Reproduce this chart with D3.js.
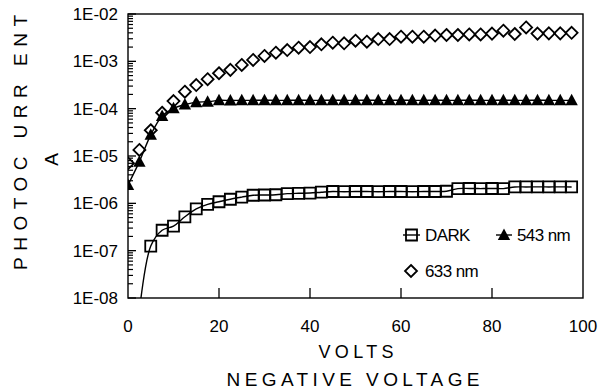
<!DOCTYPE html>
<html>
<head>
<meta charset="utf-8">
<script src="https://cdn.jsdelivr.net/npm/d3@7"></script>
<style>
  body { margin: 0; background: #fff; }
  svg { display: block; font-family: "Liberation Sans", Arial, sans-serif; }
</style>
</head>
<body>
<svg id="canvas"></svg>
<script>
var w = 598
var h = 392

// ########## Data ##########
var volts = [0, 2.5, 5, 7.5, 10, 12.5, 15, 17.5, 20, 22.5, 25, 27.5, 30, 32.5, 35, 37.5,
    40, 42.5, 45, 47.5, 50, 52.5, 55, 57.5, 60, 62.5, 65, 67.5, 70, 72.5, 75, 77.5,
    80, 82.5, 85, 87.5, 90, 92.5, 95, 97.5];

var dark = [null, 5.2e-9, 1.25e-7, 2.7e-7, 3.3e-7, 5.2e-7, 7.6e-7, 9.5e-7, 1.08e-6, 1.22e-6,
    1.35e-6, 1.48e-6, 1.5e-6, 1.52e-6, 1.6e-6, 1.63e-6, 1.65e-6, 1.72e-6, 1.78e-6, 1.76e-6,
    1.78e-6, 1.78e-6, 1.76e-6, 1.78e-6, 1.78e-6, 1.76e-6, 1.78e-6, 1.78e-6, 1.8e-6, 2.05e-6,
    2.06e-6, 2.05e-6, 2.06e-6, 2.05e-6, 2.22e-6, 2.22e-6, 2.23e-6, 2.22e-6, 2.23e-6, 2.22e-6];

var nm543 = [2.44e-6, 7.6e-6, 2.8e-5, 7.0e-5, 1.02e-4, 1.22e-4, 1.37e-4, 1.4e-4, 1.5e-4, 1.49e-4,
    1.5e-4, 1.5e-4, 1.51e-4, 1.5e-4, 1.5e-4, 1.51e-4, 1.5e-4, 1.5e-4, 1.51e-4, 1.5e-4,
    1.5e-4, 1.51e-4, 1.5e-4, 1.5e-4, 1.51e-4, 1.5e-4, 1.5e-4, 1.51e-4, 1.5e-4, 1.5e-4,
    1.51e-4, 1.5e-4, 1.5e-4, 1.51e-4, 1.5e-4, 1.5e-4, 1.51e-4, 1.5e-4, 1.5e-4, 1.5e-4];

var nm633 = [7.0e-6, 1.34e-5, 3.5e-5, 8.2e-5, 1.45e-4, 2.28e-4, 3.16e-4, 4.2e-4, 5.6e-4, 6.6e-4,
    8.4e-4, 1.07e-3, 1.3e-3, 1.52e-3, 1.73e-3, 1.94e-3, 2.0e-3, 2.29e-3, 2.48e-3, 2.4e-3,
    2.73e-3, 2.6e-3, 2.96e-3, 2.96e-3, 3.32e-3, 3.32e-3, 3.32e-3, 3.5e-3, 3.6e-3, 3.6e-3,
    3.7e-3, 3.7e-3, 3.85e-3, 4.44e-3, 3.78e-3, 5.2e-3, 3.85e-3, 3.9e-3, 3.9e-3, 4.0e-3];

var xTicks = [0, 20, 40, 60, 80, 100];
var yTicks = [1e-8, 1e-7, 1e-6, 1e-5, 1e-4, 1e-3, 1e-2];
var yTickLabels = ["1E-08", "1E-07", "1E-06", "1E-05", "1E-04", "1E-03", "1E-02"];

// ########## SVG ##########
var svg = d3.select("#canvas")
    .attr("width", w)
    .attr("height", h);

var plotL = 128, plotR = 583, plotT = 14, plotB = 298;

var x = d3.scaleLinear().domain([0, 100]).range([plotL, plotR]);
var y = d3.scaleLog().domain([1e-8, 1e-2]).range([plotB, plotT]);

svg.append("clipPath").attr("id", "plot-clip")
    .append("rect")
    .attr("x", plotL).attr("y", plotT)
    .attr("width", plotR - plotL).attr("height", plotB - plotT);

// ########## Ticks ##########
var minor = [];
yTicks.slice(0, -1).forEach(function (t) {
    for (var k = 2; k <= 9; k++) minor.push(t * k);
});

svg.selectAll(".ytick-minor")
    .data(minor).enter()
    .append("line")
    .attr("x1", plotL).attr("x2", plotL + 5)
    .attr("y1", function (d) { return y(d); })
    .attr("y2", function (d) { return y(d); })
    .attr("stroke", "#000").attr("stroke-width", 1.2);

svg.selectAll(".ytick")
    .data(yTicks).enter()
    .append("line")
    .attr("x1", plotL).attr("x2", plotL + 8)
    .attr("y1", function (d) { return y(d); })
    .attr("y2", function (d) { return y(d); })
    .attr("stroke", "#000").attr("stroke-width", 1.3);

svg.selectAll(".ylabel")
    .data(yTicks).enter()
    .append("text")
    .attr("x", plotL - 10)
    .attr("y", function (d) { return y(d) + 6; })
    .attr("text-anchor", "end")
    .attr("font-size", 17)
    .text(function (d, i) { return yTickLabels[i]; });

svg.selectAll(".xtick")
    .data(xTicks.slice(1, -1)).enter()
    .append("line")
    .attr("x1", function (d) { return x(d); })
    .attr("x2", function (d) { return x(d); })
    .attr("y1", plotB).attr("y2", plotB - 10)
    .attr("stroke", "#000").attr("stroke-width", 1.3);

svg.selectAll(".xlabel")
    .data(xTicks).enter()
    .append("text")
    .attr("x", function (d) { return x(d); })
    .attr("y", 332)
    .attr("text-anchor", "middle")
    .attr("font-size", 17)
    .text(function (d) { return d; });

// ########## Series ##########
var plot = svg.append("g").attr("clip-path", "url(#plot-clip)");

function points(vals) {
    return volts.map(function (v, i) { return [v, vals[i]]; })
        .filter(function (d) { return d[1] != null; });
}

var line = d3.line()
    .x(function (d) { return x(d[0]); })
    .y(function (d) { return y(d[1]); })
    .curve(d3.curveCatmullRom);

plot.append("path")
    .attr("d", line(points(dark)))
    .attr("fill", "none").attr("stroke", "#000").attr("stroke-width", 1.4);

plot.append("path")
    .attr("d", line(points(nm543)))
    .attr("fill", "none").attr("stroke", "#000").attr("stroke-width", 1.4);

var sq = "M-5.5,-5.5H5.5V5.5H-5.5Z";
var tri = "M0,-6.5L6.2,5L-6.2,5Z";
var dia = "M0,-6L6,0L0,6L-6,0Z";

plot.selectAll(".dark")
    .data(points(dark)).enter()
    .append("path")
    .attr("d", sq)
    .attr("transform", function (d) { return "translate(" + x(d[0]) + "," + y(d[1]) + ")"; })
    .attr("fill", "none").attr("stroke", "#000").attr("stroke-width", 1.8);

plot.selectAll(".nm543")
    .data(points(nm543)).enter()
    .append("path")
    .attr("d", tri)
    .attr("transform", function (d) { return "translate(" + x(d[0]) + "," + y(d[1]) + ")"; })
    .attr("fill", "#000");

plot.selectAll(".nm633")
    .data(points(nm633)).enter()
    .append("path")
    .attr("d", dia)
    .attr("transform", function (d) { return "translate(" + x(d[0]) + "," + y(d[1]) + ")"; })
    .attr("fill", "none").attr("stroke", "#000").attr("stroke-width", 1.8);

// ########## Frame ##########
svg.append("rect")
    .attr("x", plotL).attr("y", plotT)
    .attr("width", plotR - plotL).attr("height", plotB - plotT)
    .attr("fill", "none").attr("stroke", "#000").attr("stroke-width", 1.4);

// ########## Legend ##########
var legend = svg.append("g");

legend.append("line").attr("x1", 403).attr("x2", 420).attr("y1", 235).attr("y2", 235)
    .attr("stroke", "#000").attr("stroke-width", 1.4);
legend.append("path").attr("d", sq).attr("transform", "translate(411.5,235)")
    .attr("fill", "none").attr("stroke", "#000").attr("stroke-width", 1.8);
legend.append("text").attr("x", 425).attr("y", 241).attr("font-size", 17)
    .attr("letter-spacing", -0.6).text("DARK");

legend.append("line").attr("x1", 496).attr("x2", 512).attr("y1", 235).attr("y2", 235)
    .attr("stroke", "#000").attr("stroke-width", 1.4);
legend.append("path").attr("d", tri).attr("transform", "translate(504,235)")
    .attr("fill", "#000");
legend.append("text").attr("x", 517).attr("y", 241).attr("font-size", 17)
    .attr("letter-spacing", -0.6).text("543 nm");

legend.append("path").attr("d", dia).attr("transform", "translate(411,271)")
    .attr("fill", "none").attr("stroke", "#000").attr("stroke-width", 1.8);
legend.append("text").attr("x", 425).attr("y", 277).attr("font-size", 17)
    .attr("letter-spacing", -0.6).text("633 nm");

// ########## Axis titles ##########
svg.append("text")
    .attr("x", 356).attr("y", 358)
    .attr("text-anchor", "middle")
    .attr("font-size", 18)
    .attr("textLength", 75).attr("lengthAdjust", "spacing")
    .text("VOLTS");

svg.append("text")
    .attr("x", 353).attr("y", 386)
    .attr("text-anchor", "middle")
    .attr("font-size", 19)
    .attr("textLength", 253).attr("lengthAdjust", "spacing")
    .text("NEGATIVE VOLTAGE");

svg.append("text")
    .attr("transform", "translate(27,142.5) rotate(-90)")
    .attr("text-anchor", "middle")
    .attr("font-size", 19)
    .attr("textLength", 255).attr("lengthAdjust", "spacing")
    .text("PHOTOC URR ENT");

svg.append("text")
    .attr("transform", "translate(58,159.5) rotate(-90)")
    .attr("text-anchor", "middle")
    .attr("font-size", 19)
    .text("A");
</script>
</body>
</html>
